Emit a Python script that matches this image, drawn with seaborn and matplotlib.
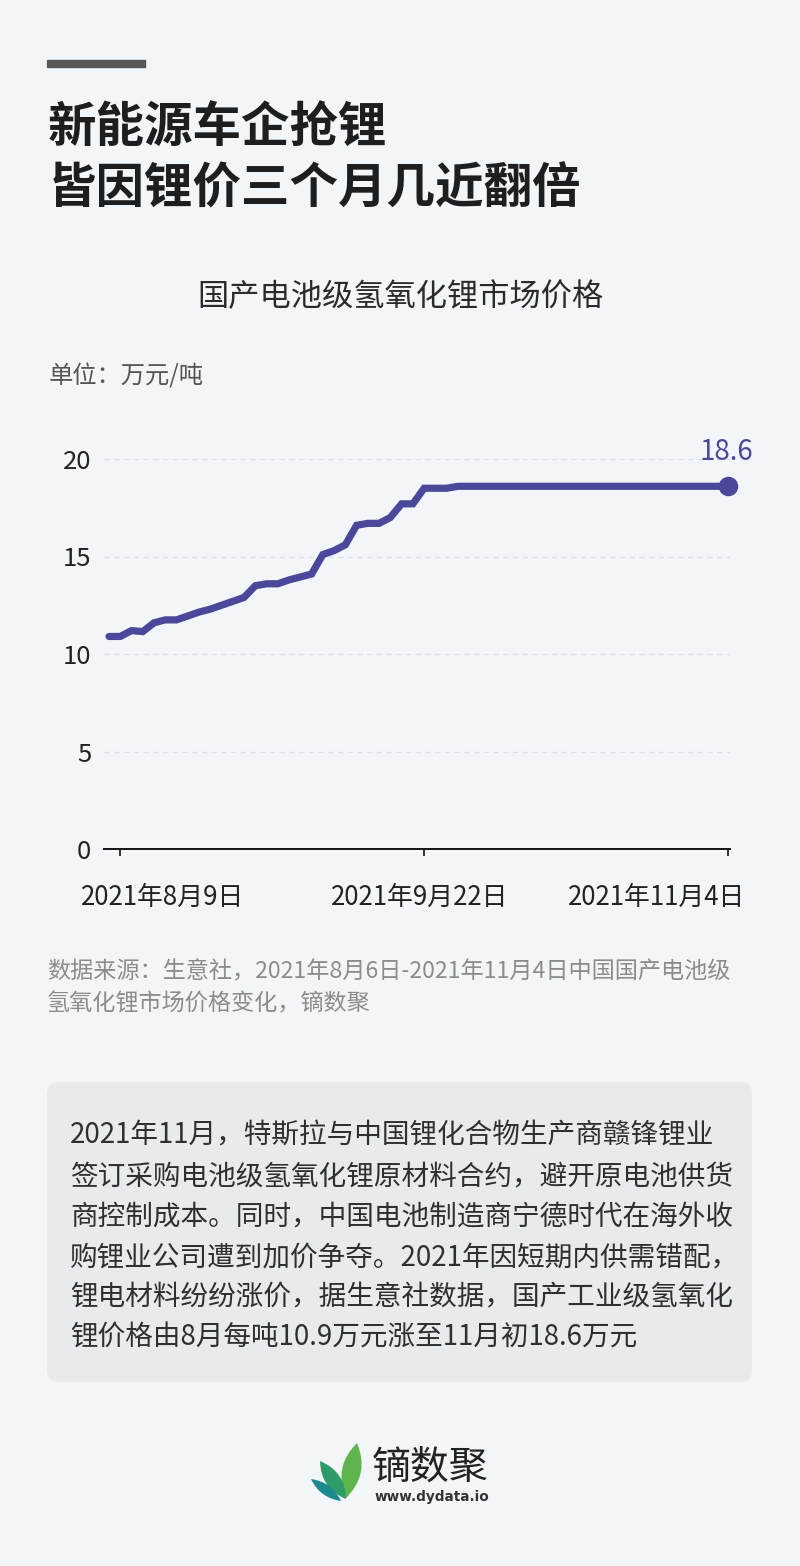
import numpy as np
import matplotlib
matplotlib.use('Agg')
import matplotlib.pyplot as plt
import matplotlib.transforms as mtransforms
from matplotlib.patches import Rectangle, FancyBboxPatch, PathPatch
from matplotlib.path import Path
import seaborn as sns

# price of battery-grade lithium hydroxide, 10k yuan / ton
price = [10.9, 10.9, 11.2, 11.15, 11.6, 11.75, 11.75, 11.95, 12.15, 12.3,
         12.5, 12.7, 12.9, 13.5, 13.6, 13.6, 13.8, 13.95, 14.1, 15.1,
         15.3, 15.6, 16.6, 16.7, 16.7, 17.0, 17.7, 17.7, 18.5, 18.5,
         18.5] + [18.6] * 25
obs = np.arange(len(price))
tick_obs = [1, 28, 55]
tick_labels = ['2021年8月9日', '2021年9月22日', '2021年11月4日']
y_ticks = [0, 5, 10, 15, 20]

title = '新能源车企抢锂\n皆因锂价三个月几近翻倍'
subtitle = '国产电池级氢氧化锂市场价格'
unit = '单位：万元/吨'
source = ['数据来源：生意社，2021年8月6日-2021年11月4日中国国产电池级',
          '氢氧化锂市场价格变化，镝数聚']
note = ['2021年11月，特斯拉与中国锂化合物生产商赣锋锂业',
        '签订采购电池级氢氧化锂原材料合约，避开原电池供货',
        '商控制成本。同时，中国电池制造商宁德时代在海外收',
        '购锂业公司遭到加价争夺。2021年因短期内供需错配，',
        '锂电材料纷纷涨价，据生意社数据，国产工业级氢氧化',
        '锂价格由8月每吨10.9万元涨至11月初18.6万元']

W, H = 800, 1566
BG = '#f3f6f9'
LINE = '#4b489b'

sns.set_theme(style='white')
plt.rcParams['font.family'] = ['Noto Sans CJK SC', 'DejaVu Sans']
plt.rcParams['axes.unicode_minus'] = False

fig = plt.figure(figsize=(W / 100, H / 100), dpi=100, facecolor=BG)
inch = fig.dpi_scale_trans


def fx(x):
    return x / W


def fy(y):
    return 1 - y / H


# top bar + titles
fig.patches.append(Rectangle((47 / 100, (H - 67) / 100), 98 / 100, 7 / 100,
                             transform=inch, color='#565656', zorder=2))
fig.text(fx(48), fy(104), title, fontsize=34.9, fontweight='bold', color='#1e1e1e',
         va='top', ha='left', linespacing=1.3)
fig.text(fx(400), fy(297), subtitle, fontsize=22.5, color='#2b2b2b', ha='center', va='center')
fig.text(fx(49), fy(376), unit, fontsize=17.5, color='#555555', ha='left', va='center')

# chart
ax = fig.add_axes([fx(104), fy(849), (730 - 104) / W, (849 - 459) / H])
ax.set_facecolor(BG)
sns.lineplot(x=obs, y=price, ax=ax, color=LINE, linewidth=5.2, clip_on=False,
             solid_joinstyle='miter')
ax.scatter([obs[-1]], [price[-1]], s=170, color=LINE, zorder=5, clip_on=False)
ax.annotate(f'{price[-1]}', (obs[-1], price[-1]), xytext=(-1, 14), textcoords='offset points',
            ha='center', va='bottom', fontsize=20, color=LINE)

ax.set_xlim(-0.445, 55.18)
ax.set_ylim(0, 20)
ax.set_yticks(y_ticks)
ax.set_yticklabels([str(v) for v in y_ticks])
ax.set_xticks(tick_obs)
ax.set_xticklabels(tick_labels)
for v in y_ticks[1:]:
    ax.axhline(v, color='#dde1e6', lw=1.0, ls=(0, (4, 3)), zorder=0)
for s in ['top', 'right', 'left']:
    ax.spines[s].set_visible(False)
ax.spines['bottom'].set_color('#111111')
ax.spines['bottom'].set_linewidth(1.4)
ax.tick_params(axis='y', left=False, length=0, pad=9, labelsize=18.5, labelcolor='#222222')
ax.tick_params(axis='x', bottom=True, length=5, width=1.2, color='#111111', direction='out',
               pad=20, labelsize=18.6, labelcolor='#222222')
ax.set_xlabel('')
ax.set_ylabel('')
shifts = [42, -4, -71]
for lab, dx in zip(ax.get_xticklabels(), shifts):
    lab.set_transform(lab.get_transform() + mtransforms.ScaledTranslation(dx / 100, 0, inch))

# source
for i, line in enumerate(source):
    fig.text(fx(47), fy(972 + 32 * i), line, fontsize=16.7, color='#8c8c8c',
             ha='left', va='center')

# note box
fig.patches.append(FancyBboxPatch((47 / 100, (H - 1382) / 100), 705 / 100, 300 / 100,
                                  boxstyle='round,pad=0,rounding_size=0.12',
                                  transform=inch, facecolor='#e8ebee', edgecolor='none'))
for i, line in enumerate(note):
    fig.text(fx(70), fy(1136 + 40.4 * i), line, fontsize=19.9, color='#2f2f2f',
             ha='left', va='center')


# logo leaves
def leaf(base, tip, bend, color):
    bx, by = base
    tx, ty = tip
    mx, my = (bx + tx) / 2, (by + ty) / 2
    nx, ny = -(ty - by), (tx - bx)
    n = np.hypot(nx, ny)
    nx, ny = nx / n * bend, ny / n * bend
    pts = [(bx, by), (mx + nx, my + ny), (tx, ty), (mx - nx, my - ny), (bx, by)]
    pts = [(x / 100, (H - y) / 100) for x, y in pts]
    codes = [Path.MOVETO, Path.CURVE3, Path.CURVE3, Path.CURVE3, Path.CURVE3]
    fig.patches.append(PathPatch(Path(pts, codes), transform=inch, facecolor=color,
                                 edgecolor='none'))


leaf((346, 1498), (357, 1443), 19, '#5fb44e')
leaf((346, 1499), (320, 1461), 15, '#2d9c68')
leaf((341, 1501), (311, 1479), 10, '#1b8a8e')

fig.text(fx(372), fy(1469), '镝数聚', fontsize=28, color='#222222', ha='left', va='center')
fig.text(fx(375), fy(1497), 'www.dydata.io', fontsize=9.8, color='#333333',
         fontweight='bold', ha='left', va='center', family=['DejaVu Sans'])

fig.savefig('out.png', dpi=100, facecolor=BG)
